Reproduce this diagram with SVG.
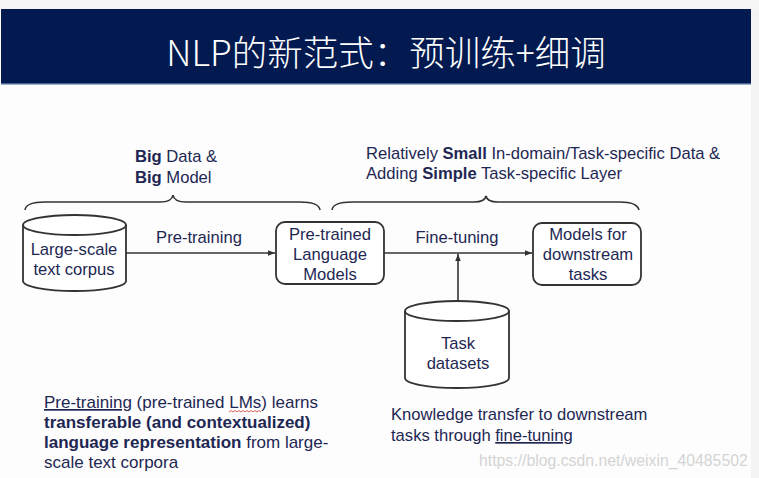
<svg xmlns="http://www.w3.org/2000/svg" width="759" height="478" viewBox="0 0 759 478">
<defs>
<style>
.t{font-family:"Liberation Sans",Arial,sans-serif;font-size:16.6px;fill:#1e2753}
.s17{font-size:17px}
.c{text-anchor:middle}
.b{font-weight:bold}
.ul{text-decoration:underline}
.ln{fill:none;stroke:#333;stroke-width:1.6}
.shape{fill:#fff;stroke:#333;stroke-width:1.8}
</style>
<marker id="ah" viewBox="0 0 10 10" refX="10" refY="5" markerWidth="7" markerHeight="7" orient="auto" markerUnits="userSpaceOnUse">
<path d="M0,1 L10,5 L0,9 z" fill="#333"/>
</marker>
</defs>
<rect width="759" height="478" fill="#fdfdfd"/>
<rect x="751" y="0" width="8" height="478" fill="#f3f3f3"/>
<rect x="0" y="0" width="759" height="9" fill="#f6f6f6"/>
<rect x="1" y="9" width="750" height="75" fill="#021a4f"/>
<rect x="1" y="83" width="750" height="1.5" fill="#4a6390"/>
<text x="386" y="66" text-anchor="middle" font-family="'Noto Sans CJK SC',sans-serif" font-weight="300" font-size="35.5" fill="#fff">NLP的新范式：预训练+细调</text>

<g id="braces">
<path class="ln" d="M25,210 Q26,202 45,202 L160,202 Q172,202 173,195 Q174,202 186,202 L300,202 Q319,202 320,210"/>
<path class="ln" d="M332,210 Q333,202 352,202 L474,202 Q485,202 486,196 Q487,202 498,202 L620,202 Q637,202 639,210"/>
</g>

<text class="t" x="135" y="162"><tspan class="b">Big</tspan> Data &amp;</text>
<text class="t" x="135" y="183"><tspan class="b">Big</tspan> Model</text>
<text class="t" x="366" y="159">Relatively <tspan class="b">Small</tspan> In-domain/Task-specific Data &amp;</text>
<text class="t" x="366" y="179">Adding <tspan class="b">Simple</tspan> Task-specific Layer</text>

<g id="connectors">
<line class="ln" x1="126" y1="253" x2="275" y2="253" marker-end="url(#ah)"/>
<line class="ln" x1="384" y1="253" x2="532" y2="253" marker-end="url(#ah)"/>
<line class="ln" x1="458" y1="301" x2="458" y2="254" marker-end="url(#ah)"/>
<text class="t c" x="199" y="243">Pre-training</text>
<text class="t c" x="457" y="243">Fine-tuning</text>
</g>

<g id="corpus">
<path class="shape" d="M23,225 L23,281 A51.5,10 0 0 0 126,281 L126,225"/>
<ellipse class="shape" cx="74.5" cy="225" rx="51.5" ry="10"/>
<text class="t c" x="74" y="255">Large-scale</text>
<text class="t c" x="74" y="275">text corpus</text>
</g>

<g id="plm">
<rect class="shape" x="276" y="222" width="108" height="62" rx="9"/>
<text class="t c" x="330" y="240">Pre-trained</text>
<text class="t c" x="330" y="260">Language</text>
<text class="t c" x="330" y="280">Models</text>
</g>

<g id="downstream">
<rect class="shape" x="533" y="223" width="108" height="62" rx="9"/>
<text class="t c" x="588" y="240">Models for</text>
<text class="t c" x="588" y="260">downstream</text>
<text class="t c" x="588" y="280">tasks</text>
</g>

<g id="taskdata">
<path class="shape" d="M405,311 L405,378 A52,10 0 0 0 509,378 L509,311"/>
<ellipse class="shape" cx="457" cy="311" rx="52" ry="10"/>
<text class="t c" x="458" y="349">Task</text>
<text class="t c" x="458" y="369">datasets</text>
</g>

<g id="notes">
<text class="t s17" x="44" y="408"><tspan class="ul">Pre-training</tspan> (pre-trained LMs) learns</text>
<path d="M229,412 l2,-1.5 l2,1.5 l2,-1.5 l2,1.5 l2,-1.5 l2,1.5 l2,-1.5 l2,1.5 l2,-1.5 l2,1.5 l2,-1.5 l2,1.5 l2,-1.5 l2,1.5 l2,-1.5 l2,1.5" fill="none" stroke="#d33" stroke-width="0.8"/>
<text class="t s17 b" x="44" y="428">transferable (and contextualized)</text>
<text class="t s17" x="44" y="448"><tspan class="b">language representation</tspan> from large-</text>
<text class="t s17" x="44" y="468">scale text corpora</text>
<text class="t" x="391" y="420">Knowledge transfer to downstream</text>
<text class="t" x="391" y="441">tasks through <tspan class="ul">fine-tuning</tspan></text>
</g>
<text x="479" y="466" font-family="'Liberation Sans',Arial,sans-serif" font-size="15.8" fill="#d4d4d4">https://blog.csdn.net/weixin_40485502</text>
</svg>
